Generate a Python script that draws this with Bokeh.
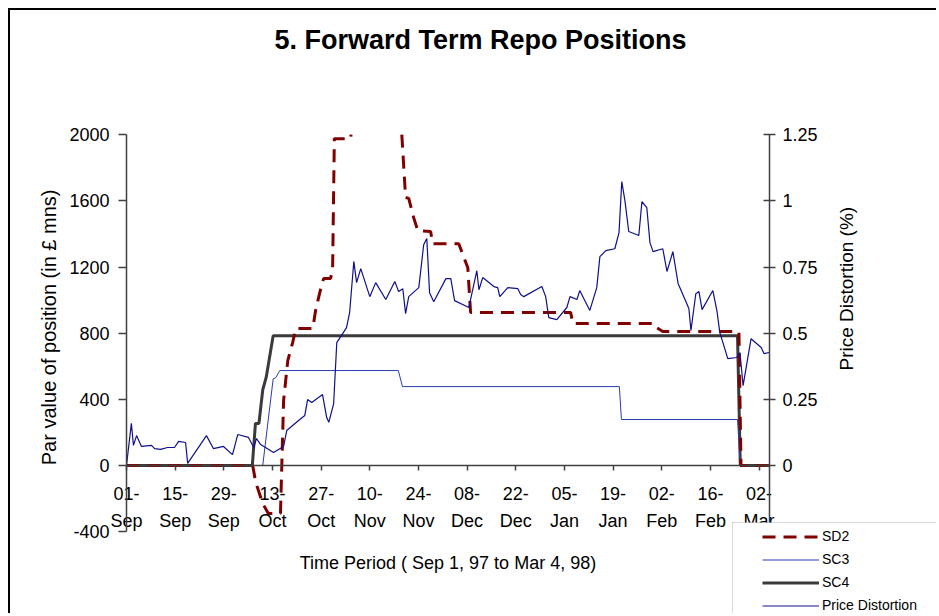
import math
import numpy as np
from bokeh.plotting import figure
from bokeh.models import (Range1d, LinearAxis, FixedTicker, Label, Legend,
                          LegendItem, BoxAnnotation)
from bokeh.embed import file_html
from bokeh.resources import INLINE

FONT = "Liberation Sans"
NaN = float("nan")

# ---------------- data (days counted from 1 Sep 1997) ----------------
tick_days = [0, 14, 28, 42, 56, 70, 84, 98, 112, 126, 140, 154, 168, 182]
tick_day_labels = ["01", "15", "29", "13", "27", "10", "24", "08", "22",
                   "05", "19", "02", "16", "02"]
tick_month_labels = ["Sep", "Sep", "Sep", "Oct", "Oct", "Nov", "Nov", "Dec",
                     "Dec", "Jan", "Jan", "Feb", "Feb", "Mar"]

left_ticks = [-400, 0, 400, 800, 1200, 1600, 2000]
right_ticks = [0, 0.25, 0.5, 0.75, 1, 1.25]
right_tick_labels = ["0", "0.25", "0.5", "0.75", "1", "1.25"]

# SD2 position (GBP mns); NaN = off the top of the scale (not shown)
sd2_day = [0, 36.3, 37.2, 39.2, 40.8, 44.3, 45.2, 46.4, 47.8, 48.7, 53.6,
           54.4, 55.6, 56.7, 58.7, 59.3, 59.8, 64.5, 64.6, 72.0, 79.2, 79.3,
           80.3, 81.2, 82.6, 83.8, 87.5, 88.1, 95.6, 98.2, 99.0, 127.8, 128.4,
           151.7, 152.0, 154.3, 176.2, 176.8, 184.9]
sd2_val = [0, 0, -103, -230, -290, -290, 393, 634, 743, 828, 828,
           937, 1045, 1130, 1130, 1190, 1976, 1976, 2000, NaN, 2000, 1970,
           1620, 1615, 1500, 1420, 1415, 1340, 1340, 1195, 925, 925, 858,
           858, 840, 810, 810, 0, 0]

# SC3 position (GBP mns)
sc3_day = [0, 39.2, 42.2, 42.9, 44.1, 78.2, 79.4, 141.8, 142.4, 175.8,
           176.6, 184.9]
sc3_val = [0, 0, 524, 530, 574, 574, 477, 477, 278, 278, 0, 0]

# SC4 position (GBP mns)
sc4_day = [0, 36.2, 37.1, 38.1, 39.2, 40.2, 42.2, 175.8, 176.6, 184.9]
sc4_val = [0, 0, 254, 254, 457, 534, 785, 785, 0, 0]

# Price distortion (%)
pd_day = [0.0, 1.4, 2.0, 2.9, 4.3, 7.2, 8.1, 9.8, 11.8, 13.8,
          15.0, 17.0, 17.6, 23.0, 25.0, 27.9, 30.5, 32.0, 35.1, 36.6,
          37.4, 38.6, 42.3, 45.2, 46.1, 49.5, 51.3, 52.1, 53.3, 56.4,
          57.6, 58.2, 59.6, 60.5, 63.3, 64.2, 65.4, 66.2, 67.4, 70.0,
          71.7, 74.6, 77.2, 78.3, 79.5, 80.3, 81.2, 84.1, 85.5, 86.4,
          87.2, 88.4, 91.9, 93.3, 94.4, 98.5, 100.8, 101.4, 102.5, 105.7,
          106.8, 107.4, 109.7, 112.6, 113.4, 114.3, 119.5, 120.6, 121.5, 123.8,
          126.7, 127.6, 129.6, 130.4, 133.3, 135.3, 136.2, 137.9, 140.5, 141.7,
          142.5, 143.4, 144.5, 147.4, 148.3, 149.7, 150.6, 151.5, 154.3, 155.5,
          157.2, 158.7, 161.8, 162.4, 163.8, 164.7, 165.6, 168.7, 169.9, 170.7,
          173.0, 175.6, 176.5, 177.4, 179.7, 182.6, 183.4, 184.9]
pd_pct = [0.0, 0.159, 0.076, 0.113, 0.072, 0.076, 0.064, 0.061, 0.068, 0.068,
          0.091, 0.087, 0.008, 0.113, 0.064, 0.072, 0.041, 0.117, 0.106, 0.068,
          0.102, 0.079, 0.049, 0.072, 0.132, 0.170, 0.189, 0.249, 0.238, 0.268,
          0.181, 0.163, 0.234, 0.464, 0.521, 0.578, 0.771, 0.691, 0.744, 0.638,
          0.691, 0.627, 0.695, 0.657, 0.668, 0.574, 0.638, 0.672, 0.834, 0.858,
          0.653, 0.619, 0.706, 0.706, 0.623, 0.597, 0.736, 0.664, 0.710, 0.676,
          0.672, 0.638, 0.672, 0.668, 0.646, 0.638, 0.676, 0.638, 0.559, 0.551,
          0.597, 0.638, 0.627, 0.661, 0.586, 0.672, 0.789, 0.812, 0.819, 0.880,
          1.073, 1.001, 0.884, 0.869, 0.997, 0.974, 0.842, 0.808, 0.819, 0.733,
          0.808, 0.688, 0.593, 0.510, 0.649, 0.657, 0.589, 0.661, 0.582, 0.503,
          0.404, 0.408, 0.427, 0.302, 0.479, 0.446, 0.423, 0.427]

# ---------------- layout geometry ----------------
W, H = 928, 605                 # canvas (page offset 10,10 incl. border)
X0, XPX = 116, 643 / 185.0      # canvas x of day 0, px per day
Y0, YPX = 455, 397 / 2400.0     # canvas y of value 0, px per unit
x_start, x_end = -X0 / XPX, (W - X0) / XPX
y_end, y_start = Y0 / YPX, -(H - Y0) / YPX

p = figure(width=W, height=H, output_backend="svg", toolbar_location=None,
           x_range=Range1d(x_start, x_end), y_range=Range1d(y_start, y_end),
           x_axis_type=None, y_axis_type=None, min_border=0,
           outline_line_color=None,
           background_fill_color="white", border_fill_color="white",
           styles={"margin-left": "8px", "margin-top": "8px",
                   "border-left": "2px solid #000", "border-top": "2px solid #000"})
p.extra_y_ranges = {"pct": Range1d(y_start / 1600.0, y_end / 1600.0)}

AX = "#404040"

def style_axis(ax):
    ax.axis_line_color = AX
    ax.axis_line_width = 1.5
    ax.major_tick_line_color = AX
    ax.major_tick_line_width = 1.5
    ax.minor_tick_line_color = None
    ax.major_label_text_font = FONT
    ax.major_label_text_font_size = "18px"
    ax.major_label_text_color = "black"

ya = LinearAxis(ticker=FixedTicker(ticks=left_ticks), fixed_location=0,
                bounds=(-400, 2000),
                major_label_overrides={t: str(t) for t in left_ticks})
style_axis(ya)
ya.major_tick_in = 0
ya.major_tick_out = 8
ya.major_label_standoff = 9
p.add_layout(ya, "left")

yb = LinearAxis(y_range_name="pct", ticker=FixedTicker(ticks=right_ticks),
                fixed_location=185, bounds=(-0.25, 1.25),
                major_label_overrides=dict(zip(right_ticks, right_tick_labels)))
style_axis(yb)
yb.major_tick_in = 6
yb.major_tick_out = 6
yb.major_label_standoff = 7
p.add_layout(yb, "right")

xa1 = LinearAxis(ticker=FixedTicker(ticks=tick_days), fixed_location=0,
                 bounds=(0, 185),
                 major_label_overrides={d: t + "-" for d, t in zip(tick_days, tick_day_labels)})
style_axis(xa1)
xa1.major_tick_in = 0
xa1.major_tick_out = 5
xa1.major_label_standoff = 16
p.add_layout(xa1, "below")

xa2 = LinearAxis(ticker=FixedTicker(ticks=tick_days), fixed_location=0,
                 bounds=(0, 185),
                 major_label_overrides=dict(zip(tick_days, tick_month_labels)))
style_axis(xa2)
xa2.axis_line_color = None
xa2.major_tick_line_color = None
xa2.major_tick_in = 0
xa2.major_tick_out = 5
xa2.major_label_standoff = 40
p.add_layout(xa2, "below")

# ---------------- series ----------------
r_sc4 = p.line(sc4_day, sc4_val, line_color="#3a3a3a", line_width=3)
r_sc3 = p.line(sc3_day, sc3_val, line_color="#2a3cb0", line_width=1)
r_sd2 = p.line(np.array(sd2_day, dtype=float), np.array(sd2_val, dtype=float),
               line_color="#800000", line_width=3, line_dash="13 8")
r_pd = p.line(pd_day, pd_pct, line_color="#10108c", line_width=1.2,
              y_range_name="pct")

# ---------------- texts ----------------
p.add_layout(Label(x=101.85, y=2575, text="5. Forward Term Repo Positions",
                   text_font=FONT, text_font_size="27px", text_font_style="bold",
                   text_align="center", text_baseline="middle", text_color="black"))
p.add_layout(Label(x=-22.3, y=835, text="Par value of position (in \u00a3 mns)",
                   angle=math.pi / 2, text_font=FONT, text_font_size="20px",
                   text_align="center", text_baseline="middle", text_color="black"))
p.add_layout(Label(x=207.2, y=1069, text="Price Distortion (%)",
                   angle=math.pi / 2, text_font=FONT, text_font_size="19px",
                   text_align="center", text_baseline="middle", text_color="black"))
p.add_layout(Label(x=93.2, y=-592, text="Time Period ( Sep 1, 97 to  Mar 4, 98)",
                   text_font=FONT, text_font_size="18px",
                   text_align="center", text_baseline="middle", text_color="black"))

# ---------------- legend ----------------
p.add_layout(BoxAnnotation(left=174.35, right=400, top=-344.6, bottom=-3000,
                           fill_color="white", fill_alpha=1.0,
                           line_color="black", line_width=1, line_dash="1 1"))
legend = Legend(items=[LegendItem(label="SD2", renderers=[r_sd2]),
                       LegendItem(label="SC3", renderers=[r_sc3]),
                       LegendItem(label="SC4", renderers=[r_sc4]),
                       LegendItem(label="Price Distortion", renderers=[r_pd])],
                location=(752, 0.5), padding=4, margin=0, spacing=4,
                glyph_width=57, glyph_height=19, label_height=19,
                label_standoff=3, label_text_font=FONT,
                label_text_font_size="14px", label_text_color="black",
                border_line_color=None, background_fill_alpha=0)
p.add_layout(legend)

open("out.html", "w").write(file_html(p, INLINE))
